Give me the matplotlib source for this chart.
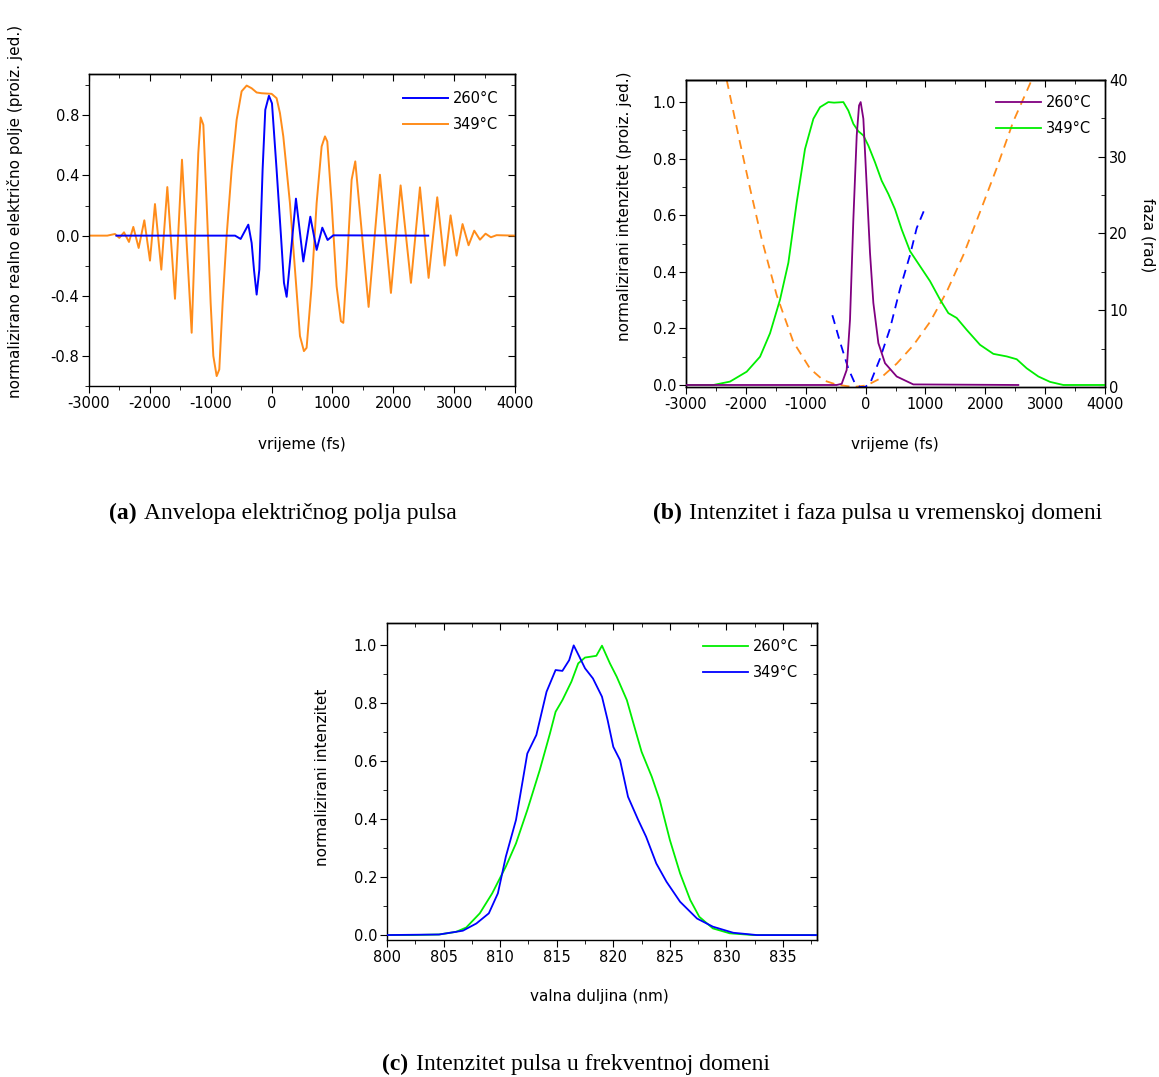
import matplotlib
matplotlib.use('Agg')
import matplotlib.pyplot as plt
from matplotlib.ticker import MultipleLocator, FormatStrFormatter
from matplotlib.offsetbox import TextArea, HPacker, AnnotationBbox

# (a) real electric field, time in fs
t_a_349 = [-3000, -2700, -2573, -2502, -2425, -2343, -2272, -2184, -2091, -1998,
           -1916, -1812, -1713, -1587, -1472, -1313, -1258, -1204, -1165, -1121,
           -1067, -1001, -957, -902, -859, -804, -738, -656, -574, -492,
           -409, -327, -245, -163, 1, 83, 138, 193, 302, 385,
           467, 532, 576, 658, 741, 823, 878, 916, 987, 1069,
           1140, 1179, 1234, 1316, 1376, 1595, 1781, 1962, 2121, 2291,
           2439, 2581, 2723, 2844, 2942, 3041, 3139, 3238, 3331, 3425,
           3517, 3605, 3698, 4000]
e_a_349 = [0, 0, 0.011, -0.015, 0.022, -0.042, 0.058, -0.082, 0.102, -0.166,
           0.210, -0.226, 0.323, -0.420, 0.505, -0.646, 0.0, 0.549, 0.786, 0.737,
           0.217, -0.447, -0.80, -0.934, -0.89, -0.447, 0.0, 0.438, 0.77, 0.96,
           0.998, 0.98, 0.952, 0.947, 0.943, 0.914, 0.815, 0.66, 0.217, -0.226,
           -0.668, -0.768, -0.746, -0.336, 0.217, 0.593, 0.66, 0.626, 0.217, -0.336,
           -0.569, -0.58, -0.226, 0.372, 0.494, -0.474, 0.405, -0.381, 0.334, -0.314,
           0.321, -0.281, 0.255, -0.199, 0.135, -0.133, 0.077, -0.064, 0.033, -0.027,
           0.013, -0.011, 0.003, 0]
t_a_260 = [-2550, -600, -508, -382, -327, -288, -245, -201, -147, -103,
           -43, 7, 83, 155, 204, 248, 401, 522, 637, 741,
           834, 921, 1015, 2575]
e_a_260 = [0, 0, -0.022, 0.073, -0.049, -0.23, -0.392, -0.226, 0.44, 0.837,
           0.930, 0.88, 0.438, -0.004, -0.314, -0.407, 0.246, -0.172, 0.126, -0.095,
           0.053, -0.029, 0.002, 0]

# (b) intensity and phase in time domain
t_b_349 = [-3000, -2543, -2265, -1986, -1763, -1596, -1429, -1290, -1151, -1012,
           -872, -761, -622, -527, -371, -288, -204, -121, -37, 47,
           158, 269, 381, 492, 603, 743, 910, 1077, 1244, 1383,
           1522, 1689, 1912, 2135, 2358, 2525, 2692, 2887, 3082, 3304, 4000]
i_b_349 = [0, 0, 0.012, 0.047, 0.10, 0.183, 0.302, 0.432, 0.645, 0.834,
           0.941, 0.982, 1.0, 0.998, 1.0, 0.970, 0.923, 0.897, 0.882, 0.846,
           0.787, 0.722, 0.675, 0.621, 0.550, 0.473, 0.420, 0.367, 0.302, 0.254,
           0.237, 0.195, 0.142, 0.110, 0.101, 0.091, 0.059, 0.030, 0.011, 0.0, 0]
t_b_260 = [-3000, -483, -399, -316, -260, -204, -148, -109, -82, -37,
           19, 74, 130, 214, 325, 520, 798, 2552]
i_b_260 = [0, 0, 0.004, 0.053, 0.231, 0.586, 0.882, 0.988, 1.0, 0.941,
           0.704, 0.467, 0.29, 0.148, 0.077, 0.030, 0.002, 0]
t_ph_349 = [-2320, -2125, -1931, -1736, -1485, -1207, -928, -705, -483, -204,
            19, 241, 520, 798, 1077, 1355, 1634, 1912, 2190, 2468, 2775]
ph_349 = [40, 32.8, 25.9, 19.3, 11.96, 5.87, 2.39, 0.87, 0.3, 0,
          0.2, 1.09, 3.04, 5.43, 8.48, 12.4, 17.2, 22.8, 28.5, 34.6, 40]
t_ph_260 = [-555, -427, -288, -176, -93, -9, 74, 241, 408, 576, 743, 854, 993]
ph_260 = [9.35, 5.87, 2.39, 0.43, 0, 0, 0.43, 3.7, 7.6, 12.8, 17.2, 20.7, 23.3]

# (c) spectra, wavelength in nm
wl_260 = [799.8, 802.2, 804.6, 806.1, 807.0, 808.2, 809.3, 810.5, 811.4, 812.4,
          813.5, 814.4, 814.9, 815.5, 816.3, 816.9, 817.5, 818.5, 819.0, 819.7,
          820.3, 821.2, 821.7, 822.5, 823.4, 824.1, 825.0, 825.9, 826.8, 827.6,
          828.8, 830.3, 832.4, 838.0]
s_260 = [0, 0, 0.002, 0.011, 0.026, 0.075, 0.144, 0.236, 0.316, 0.431,
         0.569, 0.695, 0.770, 0.810, 0.874, 0.937, 0.957, 0.963, 0.998, 0.937,
         0.891, 0.810, 0.741, 0.632, 0.546, 0.466, 0.328, 0.213, 0.121, 0.063,
         0.023, 0.006, 0, 0]
wl_349 = [799.8, 804.6, 806.7, 807.9, 809.0, 809.8, 810.5, 811.4, 812.0, 812.4,
          813.2, 814.1, 814.9, 815.5, 816.1, 816.5, 817.0, 817.5, 818.2, 819.0,
          819.5, 820.0, 820.6, 821.3, 822.2, 822.9, 823.8, 824.7, 825.9, 827.4,
          828.8, 830.6, 832.7, 838.0]
s_349 = [0, 0.002, 0.015, 0.040, 0.075, 0.144, 0.270, 0.397, 0.534, 0.626,
         0.690, 0.839, 0.914, 0.911, 0.948, 0.999, 0.960, 0.920, 0.885, 0.822,
         0.741, 0.649, 0.603, 0.477, 0.397, 0.339, 0.247, 0.184, 0.115, 0.057,
         0.029, 0.008, 0, 0]

BLUE = '#0000ff'
ORANGE = '#ff8c1a'
GREEN = '#00ee00'
PURPLE = '#800080'
FS = 10.5


def style_axes(ax, xmaj, xmin, ymaj, ymin, yfmt, right=True):
    ax.xaxis.set_major_locator(MultipleLocator(xmaj))
    ax.xaxis.set_minor_locator(MultipleLocator(xmin))
    ax.yaxis.set_major_locator(MultipleLocator(ymaj))
    ax.yaxis.set_minor_locator(MultipleLocator(ymin))
    ax.yaxis.set_major_formatter(FormatStrFormatter(yfmt))
    ax.tick_params(which='both', direction='out', top=False, right=False,
                   labelsize=FS, pad=2)
    ax.tick_params(which='major', length=5)
    ax.tick_params(which='minor', length=3)
    top = ax.secondary_xaxis('top')
    top.xaxis.set_major_locator(MultipleLocator(xmaj))
    top.xaxis.set_minor_locator(MultipleLocator(xmin))
    top.tick_params(which='both', direction='in', labeltop=False)
    top.tick_params(which='major', length=5)
    top.tick_params(which='minor', length=3)
    if right:
        r = ax.secondary_yaxis('right')
        r.yaxis.set_major_locator(MultipleLocator(ymaj))
        r.yaxis.set_minor_locator(MultipleLocator(ymin))
        r.tick_params(which='both', direction='in', labelright=False)
        r.tick_params(which='major', length=5)
        r.tick_params(which='minor', length=3)


def caption(fig, x, y, tag, text):
    a = TextArea(tag, textprops=dict(family='Liberation Serif', weight='bold', size=17))
    b = TextArea(text, textprops=dict(family='Liberation Serif', size=17))
    box = HPacker(children=[a, b], pad=0, sep=5, align='baseline')
    ab = AnnotationBbox(box, (x, y), xycoords='figure fraction', frameon=False,
                        box_alignment=(0.5, 0.5))
    fig.add_artist(ab)


def main():
    plt.rcParams['font.family'] = 'DejaVu Sans'
    plt.rcParams['axes.unicode_minus'] = False
    plt.rcParams['axes.linewidth'] = 1.0

    fig = plt.figure(figsize=(11.59, 10.77), dpi=100)

    # (a)
    ax = fig.add_axes([0.0768, 0.6416, 0.3675, 0.2897])
    ax.plot(t_a_349, e_a_349, color=ORANGE, lw=1.4, label='349°C', zorder=2)
    ax.plot(t_a_260, e_a_260, color=BLUE, lw=1.4, label='260°C', zorder=3)
    ax.set_xlim(-3000, 4000)
    ax.set_ylim(-1.0, 1.075)
    style_axes(ax, 1000, 500, 0.4, 0.2, '%.1f')
    ax.set_xlabel('vrijeme (fs)', fontsize=FS + 0.5, va='center')
    ax.xaxis.set_label_coords(0.5, -0.186)
    ax.set_ylabel('normalizirano realno električno polje (proiz. jed.)',
                  fontsize=FS + 0.5, va='center')
    ax.yaxis.set_label_coords(-0.174, 0.558)
    h, l = ax.get_legend_handles_labels()
    ax.legend(h[::-1], l[::-1], loc='upper left', bbox_to_anchor=(0.737, 0.945),
              frameon=False, fontsize=FS, handlelength=3.1, handletextpad=0.3,
              labelspacing=0.75, borderpad=0, borderaxespad=0)

    # (b)
    ax = fig.add_axes([0.5919, 0.6407, 0.3615, 0.2850])
    ax2 = ax.twinx()
    ax.set_zorder(ax2.get_zorder() + 1)
    ax.patch.set_visible(False)
    ax2.plot(t_ph_349, ph_349, color=ORANGE, lw=1.3, ls=(0, (5, 3.5)))
    ax2.plot(t_ph_260, ph_260, color=BLUE, lw=1.3, ls=(0, (5, 3.5)))
    ax.plot(t_b_349, i_b_349, color=GREEN, lw=1.3, label='349°C', zorder=2)
    ax.plot(t_b_260, i_b_260, color=PURPLE, lw=1.3, label='260°C', zorder=3)
    ax.set_xlim(-3000, 4000)
    ax.set_ylim(-0.007, 1.078)
    ax2.set_ylim(0, 40)
    style_axes(ax, 1000, 500, 0.2, 0.1, '%.1f', right=False)
    ax2.yaxis.set_major_locator(MultipleLocator(10))
    ax2.yaxis.set_minor_locator(MultipleLocator(5))
    ax2.tick_params(which='both', direction='in', labelsize=FS, pad=3)
    ax2.tick_params(which='major', length=5)
    ax2.tick_params(which='minor', length=3)
    ax2.set_ylabel('faza (rad)', fontsize=FS + 0.5, rotation=-90, va='center')
    ax2.yaxis.set_label_coords(1.103, 0.495)
    ax.set_xlabel('vrijeme (fs)', fontsize=FS + 0.5, va='center')
    ax.xaxis.set_label_coords(0.499, -0.186)
    ax.set_ylabel('normalizirani intenzitet (proiz. jed.)', fontsize=FS + 0.5,
                  va='center')
    ax.yaxis.set_label_coords(-0.148, 0.59)
    h, l = ax.get_legend_handles_labels()
    ax.legend(h[::-1], l[::-1], loc='upper left', bbox_to_anchor=(0.740, 0.95),
              frameon=False, fontsize=FS, handlelength=3.1, handletextpad=0.3,
              labelspacing=0.75, borderpad=0, borderaxespad=0)

    # (c)
    ax = fig.add_axes([0.3339, 0.1272, 0.3710, 0.2943])
    ax.plot(wl_260, s_260, color=GREEN, lw=1.3, label='260°C', zorder=2)
    ax.plot(wl_349, s_349, color=BLUE, lw=1.3, label='349°C', zorder=3)
    ax.set_xlim(800, 838)
    ax.set_ylim(-0.017, 1.076)
    style_axes(ax, 5, 2.5, 0.2, 0.1, '%.1f')
    ax.set_xlabel('valna duljina (nm)', fontsize=FS + 0.5, va='center')
    ax.xaxis.set_label_coords(0.495, -0.177)
    ax.set_ylabel('normalizirani intenzitet', fontsize=FS + 0.5, va='center')
    ax.yaxis.set_label_coords(-0.151, 0.514)
    ax.legend(loc='upper left', bbox_to_anchor=(0.735, 0.95),
              frameon=False, fontsize=FS, handlelength=3.1, handletextpad=0.3,
              labelspacing=0.75, borderpad=0, borderaxespad=0)

    caption(fig, 0.244, 0.5237, '(a)', 'Anvelopa električnog polja pulsa')
    caption(fig, 0.757, 0.5237, '(b)', 'Intenzitet i faza pulsa u vremenskoj domeni')
    caption(fig, 0.497, 0.0121, '(c)', 'Intenzitet pulsa u frekventnoj domeni')

    fig.savefig('out.png', dpi=100)


if __name__ == "__main__":
    main()
